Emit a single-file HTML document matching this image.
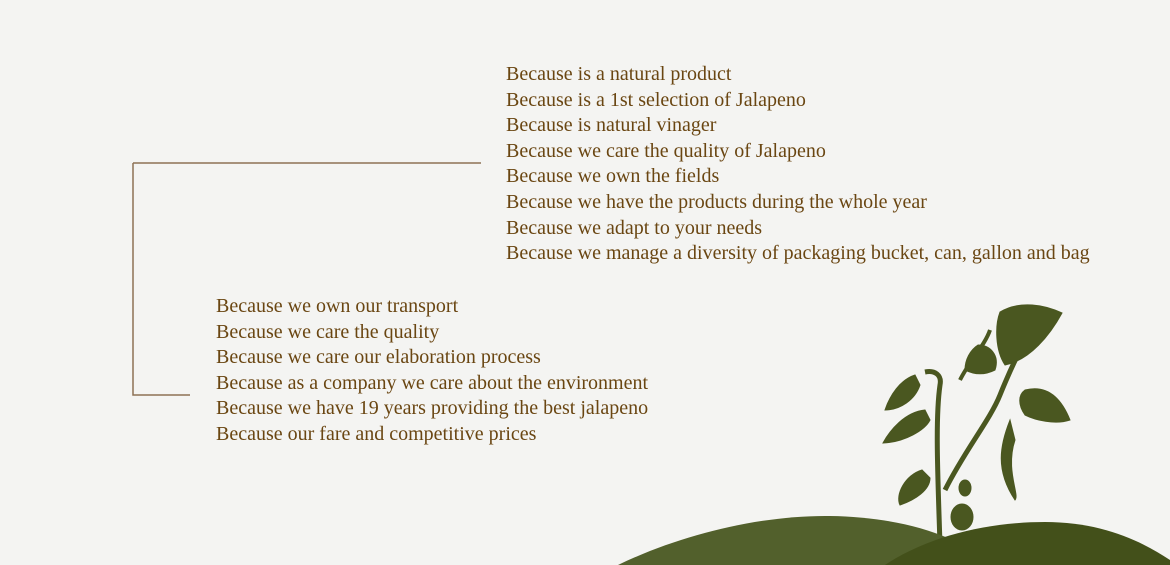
<!DOCTYPE html>
<html><head><meta charset="utf-8">
<style>
html,body{margin:0;padding:0}
body{width:1170px;height:565px;overflow:hidden;position:relative;background:#f4f4f2;font-family:"Liberation Serif",serif}
.list{position:absolute;color:#6a4612;font-size:20px;line-height:25.6px;white-space:nowrap}
.list div{height:25.6px}
</style></head>
<body>
<svg width="1170" height="565" style="position:absolute;left:0;top:0">
  <path d="M133 163 H481 M133 163 V395 H190" stroke="#8d7155" stroke-width="1.5" fill="none"/>
  <g fill="#4a5720" stroke="#4a5720">
    <path d="M940 545 C938 480 935 420 940 385 C942 375 935 370 925 372" stroke-width="5" fill="none"/>
    <path d="M945 490 C965 450 990 420 1000 395 C1010 370 1020 350 1030 330" stroke-width="5" fill="none"/>
    <path d="M960 380 C970 360 985 345 990 330" stroke-width="4" fill="none"/>
    <path d="M1000 312 C1020 300 1045 305 1062 313 C1050 335 1030 360 1005 365 C995 350 995 325 1000 312Z"/>
    <path d="M978 345 C990 345 1000 355 995 370 C985 375 975 375 965 370 C965 360 970 350 978 345Z"/>
    <path d="M1025 390 C1045 385 1060 395 1070 420 C1055 425 1035 420 1025 415 C1018 405 1018 395 1025 390Z"/>
    <path d="M915 375 C900 380 890 395 885 410 C900 410 915 400 920 385Z"/>
    <path d="M925 410 C905 412 890 430 883 443 C905 442 925 430 930 420Z"/>
    <path d="M922 470 C905 475 895 495 900 505 C915 500 930 490 930 478Z"/>
    <path d="M1010 420 C1000 445 995 470 1015 500 C1020 495 1005 470 1015 440Z"/>
    <ellipse cx="962" cy="517" rx="11" ry="13"/>
    <ellipse cx="965" cy="488" rx="6" ry="8"/>
  </g>
  <path d="M618 565 C680 535 760 515 830 516 C900 517 960 535 990 565 Z" fill="#52602c"/>
  <path d="M885 565 C930 535 990 522 1045 522 C1100 522 1140 540 1170 560 V565 Z" fill="#43501a"/>
</svg>
<div class="list" style="left:506px;top:62px">
<div>Because is a natural product</div>
<div>Because is a 1st selection of Jalapeno</div>
<div>Because is natural vinager</div>
<div>Because we care the quality of Jalapeno</div>
<div>Because we own the fields</div>
<div>Because we have the products during the whole year</div>
<div>Because we adapt to your needs</div>
<div>Because we manage a diversity of packaging bucket, can, gallon and bag</div>
</div>
<div class="list" style="left:216px;top:294px">
<div>Because we own our transport</div>
<div>Because we care the quality</div>
<div>Because we care our elaboration process</div>
<div>Because as a company we care about the environment</div>
<div>Because we have 19 years providing the best jalapeno</div>
<div>Because our fare and competitive prices</div>
</div>
</body></html>
